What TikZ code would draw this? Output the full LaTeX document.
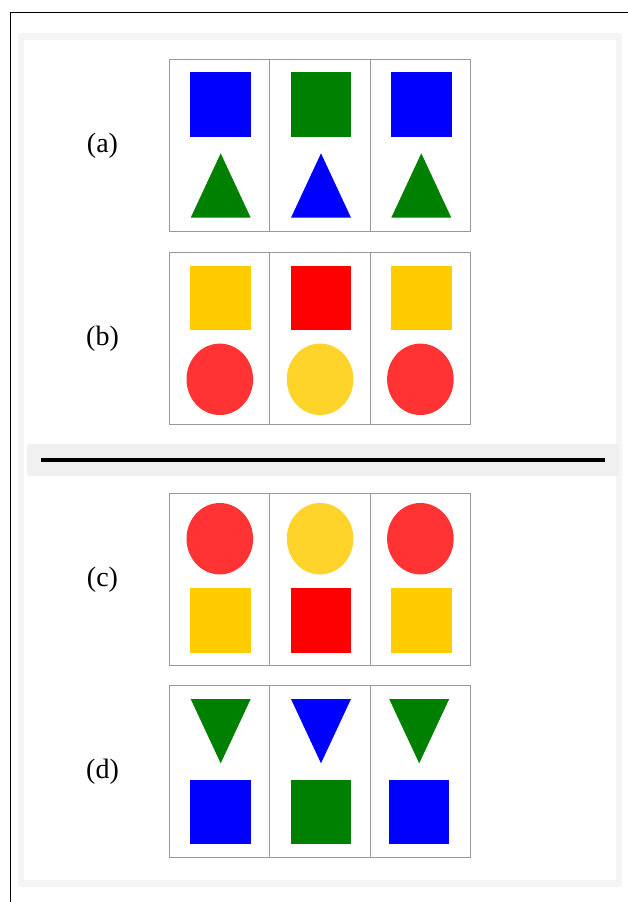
\documentclass[tikz,border=0pt]{standalone}
\usepackage{fontspec}
\setmainfont{Liberation Serif}
\definecolor{cblue}{HTML}{0000FF}
\definecolor{cgreen}{HTML}{008000}
\definecolor{cgold}{HTML}{FFCC00}
\definecolor{cred}{HTML}{FF0000}
\definecolor{ccred}{HTML}{FF3333}
\definecolor{ccyel}{HTML}{FFD42A}
\definecolor{cellgrey}{HTML}{999999}
\definecolor{framegrey}{HTML}{F5F5F5}
\definecolor{sepgrey}{HTML}{F0F0F0}
\newcommand{\mysq}[4]{\fill[#4] (#1-30.35,#2) rectangle (#1+30.35,#3);}
\newcommand{\mytriup}[4]{\fill[#4] (#1-30,#3) -- (#1,#2) -- (#1+30,#3) -- cycle;}
\newcommand{\mytridn}[4]{\fill[#4] (#1-30,#2) -- (#1,#3) -- (#1+30,#2) -- cycle;}
\newcommand{\mycirc}[3]{\fill[#3] (#1,#2) ellipse [x radius=33.3, y radius=35.7];}
\begin{document}
\begin{tikzpicture}[x=1pt,y=-1pt,
  cellbox/.style={draw=cellgrey, line width=1pt},
  lab/.style={font=\fontsize{28}{32}\selectfont, inner sep=0pt}]
\useasboundingbox (0,0) rectangle (628,902);
% outer border
\draw[line width=1pt] (628,12) -- (10,12) -- (10,902);
% frame
\fill[framegrey] (18,33) rectangle (622,887);
\fill[white] (24,40) rectangle (616,880);
% separator
\fill[sepgrey] (27,444) rectangle (619,476);
\draw[line width=4.5pt] (41,460) -- (605,460);
% cells
\foreach \t in {59.5,252.7,493.3,685.3}{
  \foreach \i in {0,1,2}{
    \draw[cellbox] ({169.5+100.33*\i},\t) rectangle ({169.5+100.33*(\i+1)},\t+172);
  }
}
% panel (a)
\mysq{220.7}{72.3}{137}{cblue}
\mysq{321.0}{72.3}{137}{cgreen}
\mysq{421.3}{72.3}{137}{cblue}
\mytriup{220.7}{153.3}{217.7}{cgreen}
\mytriup{321.0}{153.3}{217.7}{cblue}
\mytriup{421.3}{153.3}{217.7}{cgreen}
% panel (b)
\mysq{220.7}{265.7}{330.3}{cgold}
\mysq{321.0}{265.7}{330.3}{cred}
\mysq{421.3}{265.7}{330.3}{cgold}
\mycirc{219.8}{379.3}{ccred}
\mycirc{320.1}{379.3}{ccyel}
\mycirc{420.4}{379.3}{ccred}
% panel (c)
\mycirc{219.8}{538.7}{ccred}
\mycirc{320.1}{538.7}{ccyel}
\mycirc{420.4}{538.7}{ccred}
\mysq{220.7}{587.7}{652.7}{cgold}
\mysq{321.0}{587.7}{652.7}{cred}
\mysq{421.3}{587.7}{652.7}{cgold}
% panel (d)
\mytridn{220.7}{699}{763.3}{cgreen}
\mytridn{321.0}{699}{763.3}{cblue}
\mytridn{419.2}{699}{763.3}{cgreen}
\mysq{220.7}{779.7}{844.3}{cblue}
\mysq{321.0}{779.7}{844.3}{cgreen}
\mysq{419.0}{779.7}{844.3}{cblue}
% labels
\node[lab] (la) at (102.5,145.5) {(a)};
\node[lab] (lb) at (102.5,338.9) {(b)};
\node[lab] (lc) at (102.5,579.3) {(c)};
\node[lab] (ld) at (102.5,771.3) {(d)};
\end{tikzpicture}
\end{document}
